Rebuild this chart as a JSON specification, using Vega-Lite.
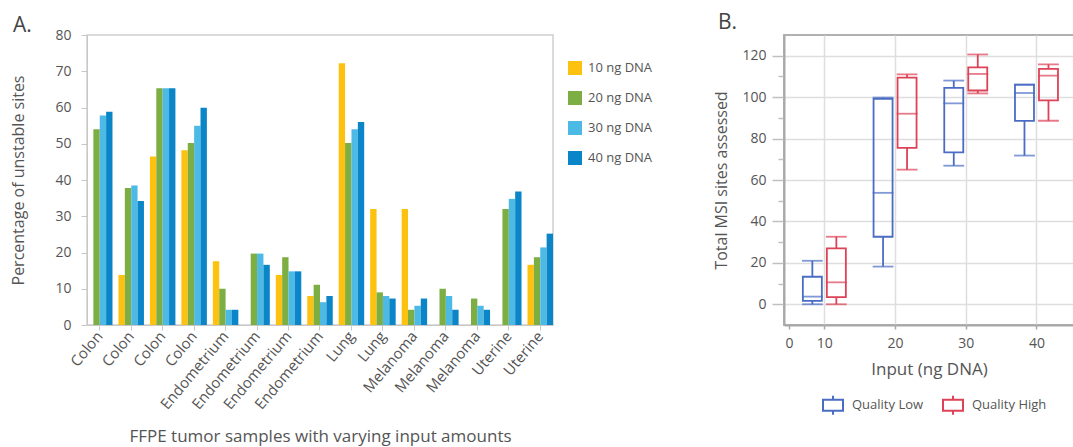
{
  "$schema": "https://vega.github.io/schema/vega-lite/v6.json",
  "background": "white",
  "padding": {"left": 10, "top": 11, "right": 0, "bottom": 0},
  "spacing": 58,
  "resolve": {"scale": {"color": "independent", "x": "independent", "y": "independent"}, "legend": {"color": "independent"}},
  "config": {
    "font": "Open Sans",
    "view": {"stroke": null},
    "axis": {"labelColor": "#555", "titleColor": "#555", "titleFontWeight": "normal", "domainColor": "#c8c8c8", "tickColor": "#c8c8c8"},
    "title": {"fontWeight": "normal", "color": "#444", "fontSize": 21, "anchor": "start", "frame": "bounds", "baseline": "alphabetic"},
    "legend": {"labelColor": "#555", "title": null}
  },
  "hconcat": [
    {
      "title": {"text": "A.", "offset": -8, "dx": 2},
      "width": 466,
      "height": 290,
      "view": {"stroke": "#cfcfcf", "strokeWidth": 1.5},
      "data": {"values": [
        {"sample": "Colon|1", "input": "20 ng DNA", "pct": 54.0},
        {"sample": "Colon|1", "input": "30 ng DNA", "pct": 57.8},
        {"sample": "Colon|1", "input": "40 ng DNA", "pct": 58.8},
        {"sample": "Colon|2", "input": "10 ng DNA", "pct": 13.8},
        {"sample": "Colon|2", "input": "20 ng DNA", "pct": 37.8},
        {"sample": "Colon|2", "input": "30 ng DNA", "pct": 38.5},
        {"sample": "Colon|2", "input": "40 ng DNA", "pct": 34.2},
        {"sample": "Colon|3", "input": "10 ng DNA", "pct": 46.5},
        {"sample": "Colon|3", "input": "20 ng DNA", "pct": 65.3},
        {"sample": "Colon|3", "input": "30 ng DNA", "pct": 65.3},
        {"sample": "Colon|3", "input": "40 ng DNA", "pct": 65.3},
        {"sample": "Colon|4", "input": "10 ng DNA", "pct": 48.2},
        {"sample": "Colon|4", "input": "20 ng DNA", "pct": 50.2},
        {"sample": "Colon|4", "input": "30 ng DNA", "pct": 55.0},
        {"sample": "Colon|4", "input": "40 ng DNA", "pct": 59.9},
        {"sample": "Endometrium|5", "input": "10 ng DNA", "pct": 17.6},
        {"sample": "Endometrium|5", "input": "20 ng DNA", "pct": 10.0},
        {"sample": "Endometrium|5", "input": "30 ng DNA", "pct": 4.2},
        {"sample": "Endometrium|5", "input": "40 ng DNA", "pct": 4.2},
        {"sample": "Endometrium|6", "input": "20 ng DNA", "pct": 19.7},
        {"sample": "Endometrium|6", "input": "30 ng DNA", "pct": 19.7},
        {"sample": "Endometrium|6", "input": "40 ng DNA", "pct": 16.6},
        {"sample": "Endometrium|7", "input": "10 ng DNA", "pct": 13.8},
        {"sample": "Endometrium|7", "input": "20 ng DNA", "pct": 18.7},
        {"sample": "Endometrium|7", "input": "30 ng DNA", "pct": 14.8},
        {"sample": "Endometrium|7", "input": "40 ng DNA", "pct": 14.8},
        {"sample": "Endometrium|8", "input": "10 ng DNA", "pct": 8.0},
        {"sample": "Endometrium|8", "input": "20 ng DNA", "pct": 11.1},
        {"sample": "Endometrium|8", "input": "30 ng DNA", "pct": 6.3},
        {"sample": "Endometrium|8", "input": "40 ng DNA", "pct": 8.0},
        {"sample": "Lung|9", "input": "10 ng DNA", "pct": 72.2},
        {"sample": "Lung|9", "input": "20 ng DNA", "pct": 50.2},
        {"sample": "Lung|9", "input": "30 ng DNA", "pct": 54.0},
        {"sample": "Lung|9", "input": "40 ng DNA", "pct": 56.0},
        {"sample": "Lung|10", "input": "10 ng DNA", "pct": 32.0},
        {"sample": "Lung|10", "input": "20 ng DNA", "pct": 9.0},
        {"sample": "Lung|10", "input": "30 ng DNA", "pct": 8.0},
        {"sample": "Lung|10", "input": "40 ng DNA", "pct": 7.3},
        {"sample": "Melanoma|11", "input": "10 ng DNA", "pct": 32.0},
        {"sample": "Melanoma|11", "input": "20 ng DNA", "pct": 4.2},
        {"sample": "Melanoma|11", "input": "30 ng DNA", "pct": 5.3},
        {"sample": "Melanoma|11", "input": "40 ng DNA", "pct": 7.3},
        {"sample": "Melanoma|12", "input": "20 ng DNA", "pct": 10.0},
        {"sample": "Melanoma|12", "input": "30 ng DNA", "pct": 8.0},
        {"sample": "Melanoma|12", "input": "40 ng DNA", "pct": 4.2},
        {"sample": "Melanoma|13", "input": "20 ng DNA", "pct": 7.3},
        {"sample": "Melanoma|13", "input": "30 ng DNA", "pct": 5.3},
        {"sample": "Melanoma|13", "input": "40 ng DNA", "pct": 4.2},
        {"sample": "Uterine|14", "input": "20 ng DNA", "pct": 32.0},
        {"sample": "Uterine|14", "input": "30 ng DNA", "pct": 34.8},
        {"sample": "Uterine|14", "input": "40 ng DNA", "pct": 36.8},
        {"sample": "Uterine|15", "input": "10 ng DNA", "pct": 16.6},
        {"sample": "Uterine|15", "input": "20 ng DNA", "pct": 18.7},
        {"sample": "Uterine|15", "input": "30 ng DNA", "pct": 21.4},
        {"sample": "Uterine|15", "input": "40 ng DNA", "pct": 25.2}
      ]},
      "mark": {"type": "bar"},
      "encoding": {
        "x": {
          "field": "sample", "type": "nominal", "sort": null,
          "scale": {"paddingInner": 0.19, "paddingOuter": 0},
          "axis": {
            "labelAngle": -50, "labelExpr": "split(datum.label, '|')[0]",
            "labelFontSize": 15, "labelPadding": 3, "tickSize": 5,
            "title": "FFPE tumor samples with varying input amounts",
            "titleFontSize": 17, "titlePadding": 17
          }
        },
        "xOffset": {"field": "input", "type": "nominal", "sort": ["10 ng DNA", "20 ng DNA", "30 ng DNA", "40 ng DNA"], "scale": {"paddingInner": 0, "paddingOuter": 0}},
        "y": {
          "field": "pct", "type": "quantitative",
          "scale": {"domain": [0, 80], "nice": false},
          "axis": {
            "values": [0, 10, 20, 30, 40, 50, 60, 70, 80], "grid": false,
            "title": "Percentage of unstable sites", "titleFontSize": 16,
            "labelFontSize": 14, "tickSize": 6, "labelPadding": 10, "titlePadding": 28
          }
        },
        "color": {
          "field": "input", "type": "nominal",
          "scale": {"domain": ["10 ng DNA", "20 ng DNA", "30 ng DNA", "40 ng DNA"], "range": ["#FDC20F", "#7DAE44", "#4DBAE6", "#0A85C7"]},
          "legend": {"orient": "none", "legendX": 481, "legendY": 26, "symbolType": "square", "symbolSize": 196, "symbolStrokeWidth": 0, "symbolOpacity": 1, "labelFontSize": 13, "rowPadding": 16, "labelOffset": 6}
        }
      }
    },
    {
      "title": {"text": "B.", "offset": 2, "dx": 4},
      "width": 290,
      "height": 290,
      "view": {"stroke": "#b0b0b0", "strokeWidth": 2},
      "data": {"values": [
        {"input": 10, "quality": "Quality Low", "lo": 0, "q1": 1.6, "med": 3.7, "q3": 13.3, "hi": 21},
        {"input": 20, "quality": "Quality Low", "lo": 18.2, "q1": 32.6, "med": 53.8, "q3": 99.2, "hi": 99.8},
        {"input": 30, "quality": "Quality Low", "lo": 66.9, "q1": 73.3, "med": 97, "q3": 104.5, "hi": 108},
        {"input": 40, "quality": "Quality Low", "lo": 71.8, "q1": 88.5, "med": 102, "q3": 106, "hi": 106},
        {"input": 10, "quality": "Quality High", "lo": 0, "q1": 3.5, "med": 10.6, "q3": 27, "hi": 32.6},
        {"input": 20, "quality": "Quality High", "lo": 65, "q1": 75.5, "med": 92, "q3": 109.4, "hi": 111},
        {"input": 30, "quality": "Quality High", "lo": 101.8, "q1": 103.2, "med": 111.2, "q3": 114.4, "hi": 120.6},
        {"input": 40, "quality": "Quality High", "lo": 88.6, "q1": 98.4, "med": 110.4, "q3": 113.6, "hi": 115.8}
      ]},
      "encoding": {
        "x": {
          "field": "input", "type": "quantitative",
          "scale": {"domain": [5, 44.6], "nice": false, "zero": false},
          "axis": {
            "values": [5, 10, 20, 30, 40],
            "labelExpr": "datum.value == 5 ? '0' : datum.label",
            "gridColor": {"condition": {"test": "datum.value == 5", "value": "transparent"}, "value": "#dedede"},
            "gridWidth": 1.5, "domainColor": "#a8a8a8", "domainWidth": 2, "tickColor": "#a8a8a8", "tickWidth": 1.5,
            "tickSize": 4, "labelFontSize": 14, "labelPadding": 7,
            "title": "Input (ng DNA)", "titleFontSize": 17, "titlePadding": 11
          }
        },
        "y": {
          "type": "quantitative",
          "scale": {"domain": [-10, 130], "nice": false, "zero": false},
          "axis": {
            "values": [0, 10, 20, 30, 40, 50, 60, 70, 80, 90, 100, 110, 120],
            "labelExpr": "datum.value % 20 == 0 ? datum.label : ''",
            "gridColor": {"condition": {"test": "datum.value % 20 != 0", "value": "transparent"}, "value": "#dedede"},
            "gridWidth": 1.5,
            "tickSize": {"condition": {"test": "datum.value % 20 == 0", "value": 12}, "value": 6},
            "domainColor": "#a8a8a8", "domainWidth": 2, "tickColor": "#c0c0c0", "tickWidth": 1.5,
            "labelFontSize": 14, "labelPadding": 6,
            "title": "Total MSI sites assessed", "titleFontSize": 16, "titlePadding": 12
          }
        },
        "color": {"field": "quality", "type": "nominal", "scale": {"domain": ["Quality Low", "Quality High"], "range": ["#4A6CC3", "#DD4257"]}}
      },
      "layer": [
        {
          "transform": [{"filter": "datum.quality == 'Quality Low'"}],
          "layer": [
            {"mark": {"type": "bar", "filled": false, "size": 19, "strokeWidth": 1.8, "xOffset": -12}, "encoding": {"y": {"field": "q1"}, "y2": {"field": "q3"}, "color": {"field": "quality", "type": "nominal", "legend": {"orient": "none", "legendX": 38, "legendY": 359, "direction": "horizontal", "symbolType": "M-1,-0.55H1V0.55H-1Z M0,-0.55V-0.95 M0,0.55V0.95", "symbolSize": 400, "symbolStrokeWidth": 2, "symbolFillColor": "transparent", "labelFontSize": 13, "labelOffset": 8, "columnPadding": 15}}}},
            {"mark": {"type": "rule", "strokeWidth": 1.8, "xOffset": -12}, "encoding": {"y": {"field": "lo"}, "y2": {"field": "q1"}}},
            {"mark": {"type": "rule", "strokeWidth": 1.8, "xOffset": -12}, "encoding": {"y": {"field": "q3"}, "y2": {"field": "hi"}}},
            {"mark": {"type": "tick", "filled": false, "orient": "horizontal", "size": 19, "thickness": 0.01, "strokeWidth": 1.8, "xOffset": -12}, "encoding": {"y": {"field": "lo"}}},
            {"mark": {"type": "tick", "filled": false, "orient": "horizontal", "size": 19, "thickness": 0.01, "strokeWidth": 1.8, "xOffset": -12}, "encoding": {"y": {"field": "hi"}}},
            {"mark": {"type": "tick", "filled": false, "orient": "horizontal", "size": 19, "thickness": 0.01, "strokeWidth": 1.8, "xOffset": -12}, "encoding": {"y": {"field": "med"}}}
          ]
        },
        {
          "transform": [{"filter": "datum.quality == 'Quality High'"}],
          "layer": [
            {"mark": {"type": "bar", "filled": false, "size": 19, "strokeWidth": 1.8, "xOffset": 12}, "encoding": {"y": {"field": "q1"}, "y2": {"field": "q3"}}},
            {"mark": {"type": "rule", "strokeWidth": 1.8, "xOffset": 12}, "encoding": {"y": {"field": "lo"}, "y2": {"field": "q1"}}},
            {"mark": {"type": "rule", "strokeWidth": 1.8, "xOffset": 12}, "encoding": {"y": {"field": "q3"}, "y2": {"field": "hi"}}},
            {"mark": {"type": "tick", "filled": false, "orient": "horizontal", "size": 19, "thickness": 0.01, "strokeWidth": 1.8, "xOffset": 12}, "encoding": {"y": {"field": "lo"}}},
            {"mark": {"type": "tick", "filled": false, "orient": "horizontal", "size": 19, "thickness": 0.01, "strokeWidth": 1.8, "xOffset": 12}, "encoding": {"y": {"field": "hi"}}},
            {"mark": {"type": "tick", "filled": false, "orient": "horizontal", "size": 19, "thickness": 0.01, "strokeWidth": 1.8, "xOffset": 12}, "encoding": {"y": {"field": "med"}}}
          ]
        }
      ]
    }
  ]
}
